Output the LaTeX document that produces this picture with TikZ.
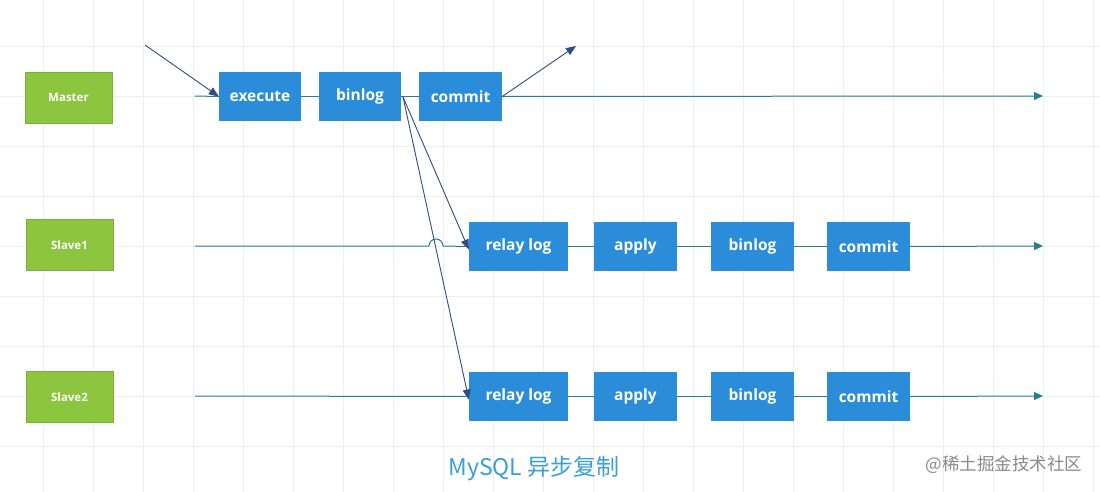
\documentclass[tikz,border=0pt]{standalone}
\usepackage{fontspec}
\setmainfont{Open Sans}
\newfontfamily\cjkfont{Noto Sans CJK SC}
\usetikzlibrary{arrows.meta}
\definecolor{boxblue}{HTML}{2B8CDA}
\definecolor{boxgreen}{HTML}{8CC63F}
\definecolor{greenedge}{HTML}{7BAF3A}
\definecolor{linet}{HTML}{2A7E8C}
\definecolor{navy}{HTML}{2D4E82}
\definecolor{gridc}{HTML}{ECEEF0}
\definecolor{capblue}{HTML}{3A9FD8}
\definecolor{wmgray}{HTML}{8A8A8A}
\begin{document}
\begin{tikzpicture}[x=1pt,y=-1pt,
  bluebox/.style={fill=boxblue,draw=none,minimum height=49pt,inner sep=0pt,text=white,font=\fontsize{15.5}{18}\selectfont\bfseries},
  greenbox/.style={fill=boxgreen,draw=greenedge,line width=0.6pt,minimum width=87pt,minimum height=51pt,inner sep=0pt,text=white,font=\fontsize{11.5}{13}\selectfont\bfseries},
  flow/.style={draw=linet,line width=1pt},
  flowarr/.style={flow,-{Triangle[length=9pt,width=8pt]}},
  sync/.style={draw=navy,line width=0.9pt,-{Triangle[length=10pt,width=8pt]}}]
\useasboundingbox (0,0) rectangle (1100,492);
\fill[white] (0,0) rectangle (1100,492);
% grid
\foreach \gx in {43,93,...,1043} \draw[gridc,line width=0.8pt] (\gx,0) -- (\gx,492);
\draw[gridc,line width=0.8pt] (1093,0) -- (1093,492);
\foreach \gy in {46,96,...,446} \draw[gridc,line width=0.8pt] (0,\gy) -- (1100,\gy);
% Master row
\node[greenbox] (master) at (68.5,97.5) {Master};
\node[bluebox,minimum width=82pt] (exec) at (260,96.5) {execute};
\node[bluebox,minimum width=82pt] (mbin) at (360,96.5) {binlog};
\node[bluebox,minimum width=83pt] (mcommit) at (460.5,96.5) {commit};
\coordinate (mstart) at (195,96);
\coordinate (mend) at (1043,96);
\coordinate (cin) at (145,45);
\coordinate (cout) at (576,46);
\draw[flow] (mstart) -- (exec.west);
\draw[flow] (exec.east) -- (mbin.west);
\draw[flow] (mbin.east) -- (mcommit.west);
\draw[flowarr] (mcommit.east) -- (mend);
\draw[sync] (cin) -- (exec.west);
\draw[sync] (mcommit.east) -- (cout);
% Slave1 row
\node[greenbox] (slave1) at (69.5,245) {Slave1};
\node[bluebox,minimum width=99pt] (relay1) at (518.5,246.5) {relay log};
\node[bluebox,minimum width=83pt] (apply1) at (635.5,246.5) {apply};
\node[bluebox,minimum width=83pt] (bin1) at (752.5,246.5) {binlog};
\node[bluebox,minimum width=83pt] (commit1) at (868.5,246.5) {commit};
\coordinate (s1start) at (195,246);
\coordinate (s1end) at (1043,246);
\draw[flow] (s1start) -- (429,246) arc[start angle=180,end angle=360,radius=7] -- (relay1.west);
\draw[flow] (relay1.east) -- (apply1.west);
\draw[flow] (apply1.east) -- (bin1.west);
\draw[flow] (bin1.east) -- (commit1.west);
\draw[flowarr] (commit1.east) -- (s1end);
% Slave2 row
\node[greenbox] (slave2) at (69.5,397) {Slave2};
\node[bluebox,minimum width=99pt] (relay2) at (518.5,396.5) {relay log};
\node[bluebox,minimum width=83pt] (apply2) at (635.5,396.5) {apply};
\node[bluebox,minimum width=83pt] (bin2) at (752.5,396.5) {binlog};
\node[bluebox,minimum width=83pt] (commit2) at (868.5,396.5) {commit};
\coordinate (s2start) at (195,396);
\coordinate (s2end) at (1043,396);
\draw[flow] (s2start) -- (relay2.west);
\draw[flow] (relay2.east) -- (apply2.west);
\draw[flow] (apply2.east) -- (bin2.west);
\draw[flow] (bin2.east) -- (commit2.west);
\draw[flowarr] (commit2.east) -- (s2end);
% binlog to relay logs
\coordinate (bsrc) at (403,97);
\draw[sync] (bsrc) -- ([yshift=-3pt]relay1.west);
\draw[sync] (bsrc) -- ([yshift=-3pt]relay2.west);
% captions
\node[text=capblue,font=\cjkfont\fontsize{23}{26}\selectfont] (cap) at (534,469) {MySQL 异步复制};
\node[text=wmgray,font=\cjkfont\fontsize{17.5}{20}\selectfont,anchor=east] (wm) at (1086,465) {@稀土掘金技术社区};
\end{tikzpicture}
\end{document}
